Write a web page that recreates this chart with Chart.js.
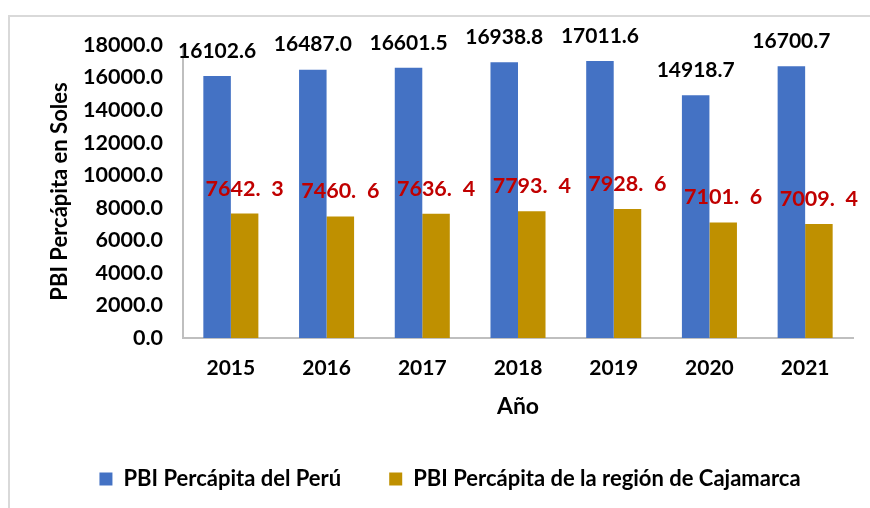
<!DOCTYPE html>
<html>
<head>
<meta charset="utf-8">
<script src="https://cdn.jsdelivr.net/npm/chart.js@4"></script>
<style>
  body { margin: 0; background: #fff; }
  #wrap { position: relative; width: 870px; height: 508px; overflow: hidden; }
  #marco { position: absolute; left: 8px; top: 15px; width: 900px; height: 600px;
           border-left: 2px solid #d9d9d9; border-top: 2px solid #d9d9d9; }
  #grafico { position: absolute; left: 0; top: 0; }
</style>
</head>
<body>
<div id="wrap">
  <div id="marco"></div>
  <canvas id="grafico" width="870" height="508"></canvas>
</div>
<script>
// datos del gráfico
const anios = ['2015', '2016', '2017', '2018', '2019', '2020', '2021'];
const pbiPeru = [16102.6, 16487.0, 16601.5, 16938.8, 17011.6, 14918.7, 16700.7];
const pbiCajamarca = [7642.3, 7460.6, 7636.4, 7793.4, 7928.6, 7101.6, 7009.4];
const nombres = ['PBI Percápita del Perú', 'PBI Percápita de la región de Cajamarca'];

const fuente = 'Lato, "Open Sans", sans-serif';

// etiquetas encima de las barras (sin plugin externo)
const etiquetas = {
  id: 'etiquetas',
  afterDatasetsDraw(chart) {
    const ctx = chart.ctx;
    ctx.save();
    ctx.textAlign = 'center';
    ctx.textBaseline = 'middle';
    chart.data.datasets.forEach((ds, i) => {
      const meta = chart.getDatasetMeta(i);
      meta.data.forEach((bar, j) => {
        let txt = ds.data[j].toFixed(1);
        if (i === 0) {
          ctx.fillStyle = '#000000';
          ctx.font = 'bold 21px ' + fuente;
        } else {
          ctx.fillStyle = '#C00000';
          ctx.font = 'bold 21.5px ' + fuente;
          txt = txt.replace('.', '.\u2002');
        }
        ctx.fillText(txt, bar.x, bar.y - 25);
      });
    });
    ctx.restore();
  }
};

const config = {
  type: 'bar',
  data: {
    labels: anios,
    datasets: [{
      label: nombres[0],
      data: pbiPeru,
      backgroundColor: '#4472C4',
      categoryPercentage: 0.575,
      barPercentage: 1.0
    }, {
      label: nombres[1],
      data: pbiCajamarca,
      backgroundColor: '#BF9000',
      categoryPercentage: 0.575,
      barPercentage: 1.0
    }]
  },
  options: {
    responsive: false,
    animation: false,
    devicePixelRatio: 1,
    layout: { padding: { left: 47, right: 17, top: 45, bottom: 8 } },
    plugins: {
      legend: {
        position: 'bottom',
        labels: {
          boxWidth: 13,
          boxHeight: 13,
          padding: 48,
          color: '#000',
          font: { family: fuente, size: 22, weight: 'bold' }
        }
      },
      tooltip: { enabled: false }
    },
    scales: {
      x: {
        grid: { display: false, drawTicks: false },
        border: { display: true, color: '#bfbfbf', width: 2 },
        ticks: { color: '#000', padding: 18, font: { family: fuente, size: 21, weight: 'bold' } },
        title: {
          display: true,
          text: 'Año',
          color: '#000',
          padding: { top: 0, bottom: 0 },
          font: { family: fuente, size: 23, weight: 'bold' }
        },
        afterFit(scale) { scale.height = 82; }
      },
      y: {
        min: 0,
        max: 18000,
        grid: { display: false, drawTicks: false },
        border: { display: true, color: '#bfbfbf', width: 2 },
        ticks: {
          stepSize: 2000,
          color: '#000',
          padding: 20,
          font: { family: fuente, size: 21.5, weight: 'bold' },
          callback: v => v.toFixed(1)
        },
        title: {
          display: true,
          text: 'PBI Percápita en Soles',
          color: '#000',
          padding: 0,
          font: { family: fuente, size: 22, weight: 'bold' }
        },
        afterFit(scale) { scale.width = 136; }
      }
    }
  },
  plugins: [etiquetas]
};

const ctx = document.getElementById('grafico').getContext('2d');
new Chart(ctx, config);
</script>
</body>
</html>
